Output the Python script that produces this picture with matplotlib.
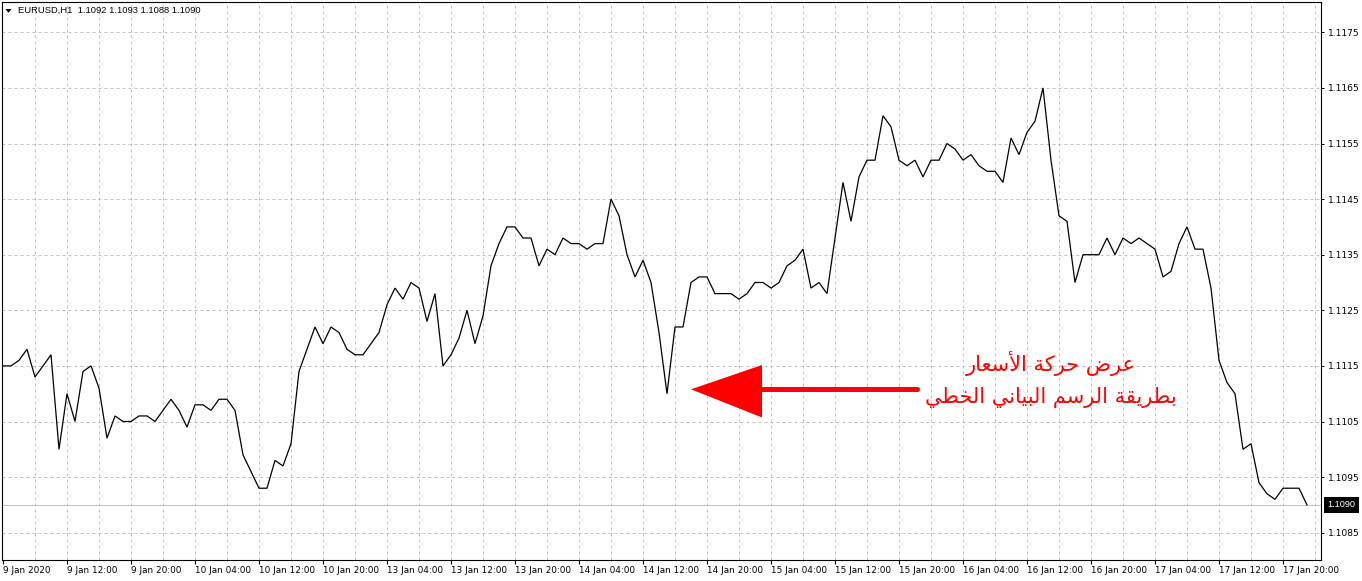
import matplotlib
matplotlib.use("Agg")
import matplotlib.pyplot as plt
from matplotlib.patches import Polygon

# ---------------- data ----------------
symbol = "EURUSD,H1"
header_ohlc = [1.1092, 1.1093, 1.1088, 1.1090]

closes = [
    1.1115, 1.1115, 1.1116, 1.1118, 1.1113, 1.1115, 1.1117, 1.1100,
    1.1110, 1.1105, 1.1114, 1.1115, 1.1111, 1.1102, 1.1106, 1.1105,
    1.1105, 1.1106, 1.1106, 1.1105, 1.1107, 1.1109, 1.1107, 1.1104,
    1.1108, 1.1108, 1.1107, 1.1109, 1.1109, 1.1107, 1.1099, 1.1096,
    1.1093, 1.1093, 1.1098, 1.1097, 1.1101, 1.1114, 1.1118, 1.1122,
    1.1119, 1.1122, 1.1121, 1.1118, 1.1117, 1.1117, 1.1119, 1.1121,
    1.1126, 1.1129, 1.1127, 1.1130, 1.1129, 1.1123, 1.1128, 1.1115,
    1.1117, 1.1120, 1.1125, 1.1119, 1.1124, 1.1133, 1.1137, 1.1140,
    1.1140, 1.1138, 1.1138, 1.1133, 1.1136, 1.1135, 1.1138, 1.1137,
    1.1137, 1.1136, 1.1137, 1.1137, 1.1145, 1.1142, 1.1135, 1.1131,
    1.1134, 1.1130, 1.1121, 1.1110, 1.1122, 1.1122, 1.1130, 1.1131,
    1.1131, 1.1128, 1.1128, 1.1128, 1.1127, 1.1128, 1.1130, 1.1130,
    1.1129, 1.1130, 1.1133, 1.1134, 1.1136, 1.1129, 1.1130, 1.1128,
    1.1138, 1.1148, 1.1141, 1.1149, 1.1152, 1.1152, 1.1160, 1.1158,
    1.1152, 1.1151, 1.1152, 1.1149, 1.1152, 1.1152, 1.1155, 1.1154,
    1.1152, 1.1153, 1.1151, 1.1150, 1.1150, 1.1148, 1.1156, 1.1153,
    1.1157, 1.1159, 1.1165, 1.1152, 1.1142, 1.1141, 1.1130, 1.1135,
    1.1135, 1.1135, 1.1138, 1.1135, 1.1138, 1.1137, 1.1138, 1.1137,
    1.1136, 1.1131, 1.1132, 1.1137, 1.1140, 1.1136, 1.1136, 1.1129,
    1.1116, 1.1112, 1.1110, 1.1100, 1.1101, 1.1094, 1.1092, 1.1091,
    1.1093, 1.1093, 1.1093, 1.1090,
]

x_tick_labels = [
    "9 Jan 2020", "9 Jan 12:00", "9 Jan 20:00", "10 Jan 04:00", "10 Jan 12:00",
    "10 Jan 20:00", "13 Jan 04:00", "13 Jan 12:00", "13 Jan 20:00", "14 Jan 04:00",
    "14 Jan 12:00", "14 Jan 20:00", "15 Jan 04:00", "15 Jan 12:00", "15 Jan 20:00",
    "16 Jan 04:00", "16 Jan 12:00", "16 Jan 20:00", "17 Jan 04:00", "17 Jan 12:00",
    "17 Jan 20:00",
]
price_ticks = [1.1085, 1.1095, 1.1105, 1.1115, 1.1125, 1.1135, 1.1145,
               1.1155, 1.1165, 1.1175]
annotation_lines = ["عرض حركة الأسعار", "بطريقة الرسم البياني الخطي"]

# ---------------- simple Arabic shaping (presentation forms + RTL) ----------------
FORMS = {
    'ا': (0xFE8D, 0xFE8E, None, None),
    'أ': (0xFE83, 0xFE84, None, None),
    'ة': (0xFE93, 0xFE94, None, None),
    'ر': (0xFEAD, 0xFEAE, None, None),
    'ب': (0xFE8F, 0xFE90, 0xFE91, 0xFE92),
    'ح': (0xFEA1, 0xFEA2, 0xFEA3, 0xFEA4),
    'خ': (0xFEA5, 0xFEA6, 0xFEA7, 0xFEA8),
    'س': (0xFEB1, 0xFEB2, 0xFEB3, 0xFEB4),
    'ض': (0xFEBD, 0xFEBE, 0xFEBF, 0xFEC0),
    'ط': (0xFEC1, 0xFEC2, 0xFEC3, 0xFEC4),
    'ع': (0xFEC9, 0xFECA, 0xFECB, 0xFECC),
    'ق': (0xFED5, 0xFED6, 0xFED7, 0xFED8),
    'ك': (0xFED9, 0xFEDA, 0xFEDB, 0xFEDC),
    'ل': (0xFEDD, 0xFEDE, 0xFEDF, 0xFEE0),
    'م': (0xFEE1, 0xFEE2, 0xFEE3, 0xFEE4),
    'ن': (0xFEE5, 0xFEE6, 0xFEE7, 0xFEE8),
    'ي': (0xFEF1, 0xFEF2, 0xFEF3, 0xFEF4),
}
LAM_ALEF = {'ا': (0xFEFB, 0xFEFC), 'أ': (0xFEF7, 0xFEF8)}


def shape_arabic(text):
    out = []
    prev_join = False
    i, n = 0, len(text)
    while i < n:
        c = text[i]
        if c not in FORMS:
            out.append(c)
            prev_join = False
            i += 1
            continue
        if c == 'ل' and i + 1 < n and text[i + 1] in LAM_ALEF:
            iso, fin = LAM_ALEF[text[i + 1]]
            out.append(chr(fin if prev_join else iso))
            prev_join = False
            i += 2
            continue
        f = FORMS[c]
        nxt = text[i + 1] if i + 1 < n else ''
        join_next = f[2] is not None and nxt in FORMS
        if prev_join and join_next:
            g = f[3]
        elif prev_join:
            g = f[1]
        elif join_next:
            g = f[2]
        else:
            g = f[0]
        out.append(chr(g))
        prev_join = join_next
        i += 1
    return ''.join(reversed(out))


# ---------------- figure ----------------
W, H = 1362, 581
L_PX, R_PX, T_PX, B_PX = 2, 1321, 2, 560
fig = plt.figure(figsize=(W / 100, H / 100), dpi=100, facecolor='white')
ax = fig.add_axes([L_PX / W, (H - B_PX) / H, (R_PX - L_PX) / W, (B_PX - T_PX) / H])
ax.set_facecolor('white')

FONT = ['Liberation Sans', 'DejaVu Sans']
plt.rcParams['font.family'] = FONT

n = len(closes)
xs = list(range(n))

ax.set_xlim(-0.125, 164.75)
ax.set_ylim(1.108009, 1.118045)

grid_kw = dict(color='#c0c0c0', lw=0.72, ls=(0, (3, 3)), zorder=1)
for xb in range(4, n + 1, 4):
    ax.axvline(xb, **grid_kw)
for p in price_ticks:
    ax.axhline(p, **grid_kw)

# current price line
ax.axhline(closes[-1], color='#c0c0c0', lw=0.72, zorder=1.5)

ax.plot(xs, closes, color='black', lw=0.9, zorder=3, solid_joinstyle='miter')

# ticks
ax.set_xticks(list(range(0, n, 8))[:len(x_tick_labels)])
ax.set_xticklabels(x_tick_labels, ha='left', fontsize=6.4)
ax.set_yticks(price_ticks)
ax.set_yticklabels([f"{p:.4f}" for p in price_ticks], fontsize=6.6)
ax.yaxis.tick_right()
ax.tick_params(axis='x', direction='out', length=3, width=0.72, pad=1, colors='black')
ax.tick_params(axis='y', direction='out', length=2.2, width=0.72, pad=2.7, colors='black')

for s in ax.spines.values():
    s.set_color('black')
    s.set_linewidth(0.8)

# current price box
ax.text(1 + 6.5 / (R_PX - L_PX), closes[-1], f"{closes[-1]:.4f}",
        transform=ax.get_yaxis_transform(), ha='left', va='center',
        fontsize=6.6, color='white', zorder=6, clip_on=False,
        bbox=dict(boxstyle='square,pad=0.35', fc='black', ec='none'))


def axf(px, py):
    return ((px - L_PX) / (R_PX - L_PX), (B_PX - py) / (B_PX - T_PX))


# header
tri = Polygon([axf(5.5, 9.0), axf(11.5, 9.0), axf(8.5, 12.8)], closed=True,
              transform=ax.transAxes, fc='black', ec='none', clip_on=False, zorder=7)
ax.add_patch(tri)
hx, hy = axf(17.5, 10.7)
ax.text(hx, hy, symbol + "  " + " ".join(f"{v:.4f}" for v in header_ohlc),
        transform=ax.transAxes, ha='left', va='center', fontsize=6.75,
        color='black', zorder=7)

# red arrow
red = '#ff0000'
x0, y0 = axf(917, 389.3)
x1, y1 = axf(760, 389.3)
ax.plot([x0, x1], [y0, y1], transform=ax.transAxes, color=red, lw=3.6,
        solid_capstyle='round', zorder=5)
head = Polygon([axf(691, 389.3), axf(762, 365), axf(762, 417.5)], closed=True,
               transform=ax.transAxes, fc=red, ec='none', zorder=5)
ax.add_patch(head)

# Arabic text
for line, cy in zip(annotation_lines, [364, 397]):
    tx, ty = axf(1051, cy)
    ax.text(tx, ty, shape_arabic(line), transform=ax.transAxes, ha='center',
            va='center', fontsize=15, color=red, family=['DejaVu Sans'], zorder=5)

fig.savefig('out.png', dpi=100, facecolor='white')
